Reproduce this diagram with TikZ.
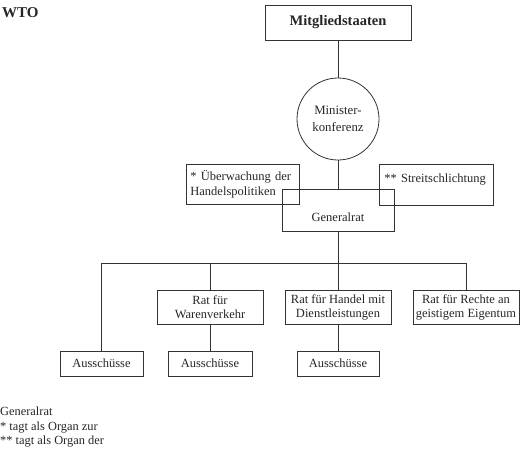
\documentclass[tikz,border=0pt]{standalone}
\usepackage{fontspec}
\setmainfont{Liberation Serif}
\begin{document}
\begin{tikzpicture}[x=1pt,y=-1pt,
  every node/.style={font=\fontsize{12.5}{14}\selectfont, text=black!85},
  box/.style={draw=black!80, line width=0.8pt, inner sep=0pt, align=center},
  conn/.style={draw=black!80, line width=0.8pt}]
\useasboundingbox (0,0) rectangle (520,453);
\node[anchor=base west, inner sep=0pt, font=\fontsize{15}{18}\selectfont\bfseries] (wto) at (2,17) {WTO};
\node[box, minimum width=146pt, minimum height=35pt, font=\fontsize{14.5}{17}\selectfont\bfseries] (mit) at (338,22.5) {Mitgliedstaaten};
\node[box, circle, minimum size=82pt, font=\fontsize{12.8}{16.5}\selectfont] (mk) at (338,119) {Minister-\\konferenz};
\node[box, minimum width=112pt, minimum height=42pt, text height=32pt, text depth=10pt] (gr) at (338,210) {Generalrat};
\node[box, anchor=north west, minimum width=112pt, minimum height=40pt, text width=105pt, align=left, inner xsep=4pt, font=\fontsize{12.5}{14.5}\selectfont] (ueb) at (186,164) {* Überwachung der\\Handelspolitiken};
\node[box, anchor=north west, minimum width=113pt, minimum height=41pt, text width=104pt, align=left, inner xsep=5pt, text height=17.7pt, text depth=23.3pt] (str) at (379,164) {** Streitschlichtung};
\node[box, minimum width=106pt, minimum height=34pt] (rw) at (210,307) {Rat für\\Warenverkehr};
\node[box, minimum width=106pt, minimum height=34pt] (rd) at (338,307) {Rat für Handel mit\\Dienstleistungen};
\node[box, minimum width=106pt, minimum height=34pt] (rr) at (466,307.5) {Rat für Rechte an\\geistigem Eigentum};
\node[box, minimum width=83pt, minimum height=25pt] (a1) at (101.5,363.5) {Ausschüsse};
\node[box, minimum width=84pt, minimum height=25pt] (a2) at (210,363.5) {Ausschüsse};
\node[box, minimum width=82pt, minimum height=25pt] (a3) at (338,363.5) {Ausschüsse};
\coordinate (bus) at (338,263);
\draw[conn] (mit.south) -- (mk.north);
\draw[conn] (mk.south) -- (gr.north);
\draw[conn] (gr.south) -- (rd.north);
\draw[conn] (a1.north) -- (a1.north |- bus) -- (rr.north |- bus) -- (rr.north);
\draw[conn] (rw.north) -- (rw.north |- bus);
\draw[conn] (rw.south) -- (a2.north);
\draw[conn] (rd.south) -- (a3.north);
\node[anchor=north west, align=left, inner sep=0pt, font=\fontsize{12.4}{14.5}\selectfont] (note) at (0,407) {Generalrat\\* tagt als Organ zur\\** tagt als Organ der};
\end{tikzpicture}
\end{document}
